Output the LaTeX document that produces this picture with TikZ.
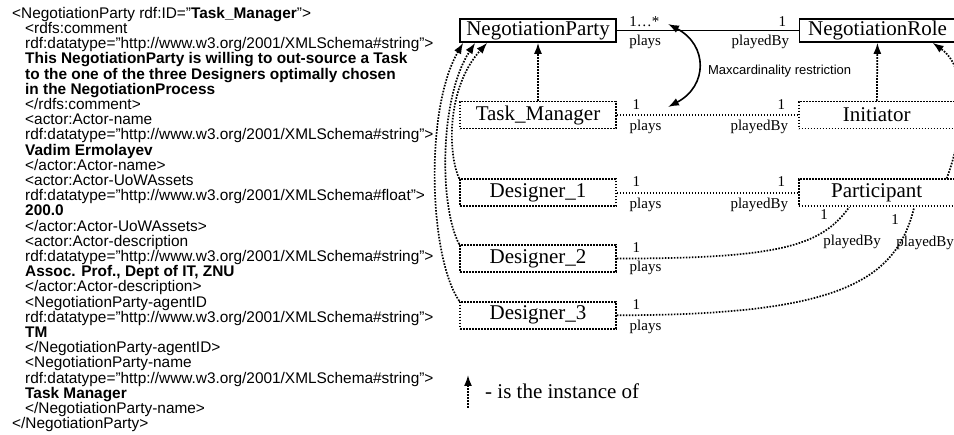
\documentclass[tikz,border=0pt]{standalone}
\usepackage{fontspec}
\setmainfont{Liberation Serif}
\setsansfont{Liberation Sans}
\usetikzlibrary{arrows.meta,positioning}

\newcommand{\rdfind}{\hspace*{13pt}}

\begin{document}
\begin{tikzpicture}[x=1pt, y=-1pt,
    classbox/.style={rectangle, draw=black, line width=1.6pt, minimum width=156pt, minimum height=23pt, inner sep=0pt, font=\fontsize{21}{21}\selectfont},
    objbox/.style={rectangle, draw=black, line width=1.7pt, dash pattern=on 1.6pt off 1.4pt, minimum width=156pt, minimum height=27pt, inner sep=0pt, font=\fontsize{21}{21}\selectfont},
    dotline/.style={line width=1.7pt, dash pattern=on 1.6pt off 1.4pt},
    isinst/.style={dotline, -{Latex[length=11pt,width=8pt]}},
    mult/.style={font=\fontsize{15}{15}\selectfont, inner sep=1pt},
    multA/.style={mult, anchor=south west, xshift=11pt, yshift=4pt},
    multB/.style={mult, anchor=north west, xshift=11pt, yshift=-3pt},
    multC/.style={mult, anchor=south east, xshift=-11pt, yshift=4pt},
    multD/.style={mult, anchor=north east, xshift=-8pt, yshift=-3pt}
  ]
  \useasboundingbox (0,0) rectangle (954,435);

  % RDF listing of the instance
  \node[anchor=north west, inner sep=0pt, align=left, font=\sffamily\fontsize{15.4}{15.2}\selectfont] (rdf) at (12,7) {%
    <NegotiationParty rdf:ID="\textbf{Task\_Manager}">\\
    \rdfind<rdfs:comment\\
    \rdfind rdf:datatype="http://www.w3.org/2001/XMLSchema\#string">\\
    \rdfind\textbf{This NegotiationParty is willing to out-source a Task}\\
    \rdfind\textbf{to the one of the three Designers optimally chosen}\\
    \rdfind\textbf{in the NegotiationProcess}\\
    \rdfind</rdfs:comment>\\
    \rdfind<actor:Actor-name\\
    \rdfind rdf:datatype="http://www.w3.org/2001/XMLSchema\#string">\\
    \rdfind\textbf{Vadim Ermolayev}\\
    \rdfind</actor:Actor-name>\\
    \rdfind<actor:Actor-UoWAssets\\
    \rdfind rdf:datatype="http://www.w3.org/2001/XMLSchema\#float">\\
    \rdfind\textbf{200.0}\\
    \rdfind</actor:Actor-UoWAssets>\\
    \rdfind<actor:Actor-description\\
    \rdfind rdf:datatype="http://www.w3.org/2001/XMLSchema\#string">\\
    \rdfind\textbf{Assoc. Prof., Dept of IT, ZNU}\\
    \rdfind</actor:Actor-description>\\
    \rdfind<NegotiationParty-agentID\\
    \rdfind rdf:datatype="http://www.w3.org/2001/XMLSchema\#string">\\
    \rdfind\textbf{TM}\\
    \rdfind</NegotiationParty-agentID>\\
    \rdfind<NegotiationParty-name\\
    \rdfind rdf:datatype="http://www.w3.org/2001/XMLSchema\#string">\\
    \rdfind\textbf{Task Manager}\\
    \rdfind</NegotiationParty-name>\\
    </NegotiationParty>};

  % classes
  \node[classbox] (np) at (538,30.5) {NegotiationParty};
  \node[classbox, right=182pt of np] (nr) {NegotiationRole};

  % instances
  \node[objbox, below=58pt of np] (tm) {Task\_Manager};
  \node[objbox, right=181pt of tm] (init) {Initiator};
  \node[objbox, below=49pt of tm] (d1) {Designer\_1};
  \node[objbox, right=181pt of d1] (part) {Participant};
  \node[objbox, below=37pt of d1] (d2) {Designer\_2};
  \node[objbox, below=28pt of d2] (d3) {Designer\_3};

  % plays / playedBy
  \draw[line width=1.2pt] (np) -- (nr)
    node[multA, pos=0, yshift=-2pt] {1…*} node[multB, pos=0] {plays}
    node[multC, pos=1, yshift=-2pt] {1} node[multD, pos=1] {playedBy};
  \draw[dotline] (tm) -- (init)
    node[multA, pos=0, xshift=3pt] {1} node[multB, pos=0] {plays}
    node[multC, pos=1] {1} node[multD, pos=1] {playedBy};
  \draw[dotline] (d1) -- (part)
    node[multA, pos=0, xshift=3pt] {1} node[multB, pos=0] {plays}
    node[multC, pos=1] {1} node[multD, pos=1] {playedBy};
  \draw[dotline] (d2.east) .. controls +(162,0) and +(-28,39) .. ([xshift=-27.5pt]part.south)
    node[multA, pos=0, xshift=3pt] {1} node[multB, pos=0, yshift=2pt] {plays}
    node[mult, pos=1, xshift=-25pt, yshift=-7pt] {1}
    node[mult, pos=1, xshift=3pt, yshift=-35pt] {playedBy};
  \draw[dotline] (d3.east) .. controls +(222,0) and +(-18,74) .. ([xshift=37.5pt]part.south)
    node[multA, pos=0, xshift=3pt] {1} node[multB, pos=0] {plays}
    node[mult, pos=1, xshift=-19pt, yshift=-12pt] {1}
    node[mult, pos=1, xshift=11pt, yshift=-36pt] {playedBy};

  % instance-of links
  \draw[isinst] (tm) -- (np);
  \draw[isinst] (init) -- (nr);
  \draw[isinst] (d1.north west) .. controls +(-12,-27) and +(-40,44) .. ([xshift=28pt]np.south west);
  \draw[isinst] (d2.north west) .. controls +(-20,-38) and +(-36,55) .. ([xshift=16pt]np.south west);
  \draw[isinst] (d3.north west) .. controls +(-30,-44) and +(-39,67) .. ([xshift=4pt]np.south west);
  \draw[isinst] ([xshift=70pt]part.north) .. controls +(17,-46) and +(38,27) .. ([xshift=55pt]nr.south);

  % cardinality restriction
  \coordinate (mcTop) at (668,24);
  \coordinate (mcBot) at (668,107);
  \draw[line width=1.6pt, {Latex[length=11pt,width=8pt]}-{Latex[length=11pt,width=8pt]}]
    (mcTop) .. controls +(40,21) and +(40,-21) .. (mcBot)
    node[pos=0.5, anchor=west, xshift=6pt, yshift=-6pt, font=\sffamily\fontsize{13}{13}\selectfont] {Maxcardinality restriction};

  % legend
  \coordinate (legBot) at (468,408);
  \coordinate (legTop) at (468,375);
  \draw[isinst] (legBot) -- (legTop);
  \node[anchor=west, inner sep=0pt, font=\fontsize{21}{21}\selectfont] (legText) at (485,391) {- is the instance of};
\end{tikzpicture}
\end{document}
